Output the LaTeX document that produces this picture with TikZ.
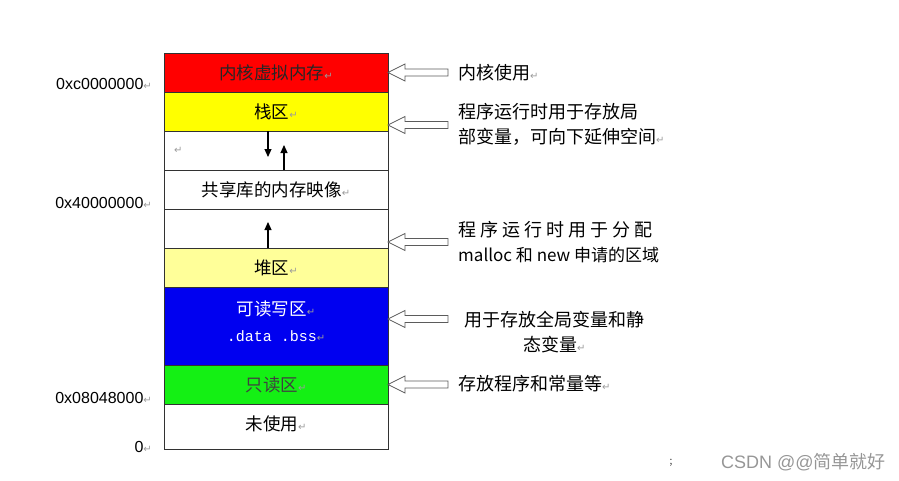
\documentclass[tikz,border=0pt]{standalone}
\usepackage{fontspec}
\setmainfont{Noto Sans CJK SC}
\newfontfamily\hexfont{Liberation Sans}
\newfontfamily\codefont{Liberation Mono}
\newfontfamily\markfont{DejaVu Sans}
\usetikzlibrary{arrows.meta,positioning}
\definecolor{ink}{RGB}{50,50,50}
\definecolor{kernred}{RGB}{255,0,0}
\definecolor{stackyel}{RGB}{255,255,0}
\definecolor{heapyel}{RGB}{255,255,153}
\definecolor{rwblue}{RGB}{0,0,240}
\definecolor{rogreen}{RGB}{20,240,20}
\definecolor{markgray}{RGB}{155,155,155}
\definecolor{wmgray}{RGB}{150,150,150}
\newcommand{\pmk}{{\markfont\fontsize{10}{10}\selectfont\textcolor{markgray}{↵}}}
\tikzset{
  seg/.style={draw=ink,line width=0.9pt,minimum width=224pt,minimum height=39pt,
    inner sep=0pt,outer sep=0pt,font=\fontsize{17.5}{20}\selectfont,align=center},
  addr/.style={anchor=east,inner sep=0pt,font=\hexfont\fontsize{16}{18}\selectfont},
  note/.style={anchor=west,inner sep=0pt,font=\fontsize{18}{25}\selectfont,align=left},
  growarr/.style={-{Triangle[length=8pt,width=7pt]},line width=1.1pt},
  hollow/.pic={\draw[draw=ink!80,line width=0.8pt,fill=white]
    (0,0) -- (17,-8.5) -- (17,-3.5) -- (60,-3.5) -- (60,3.5) -- (17,3.5) -- (17,8.5) -- cycle;},
}

\begin{document}
\begin{tikzpicture}[x=1pt,y=-1pt,node distance=0pt]
\useasboundingbox (0,0) rectangle (899,480);
% memory segments, top to bottom
\node[seg,fill=kernred,text=black!85,anchor=north west] (kern) at (164,53) {内核虚拟内存\pmk};
\node[seg,fill=stackyel,below=of kern] (stack) {栈区\pmk};
\node[seg,below=of stack] (gap1) {};
\node[seg,below=of gap1] (shlib) {共享库的内存映像\pmk};
\node[seg,below=of shlib] (gap2) {};
\node[seg,fill=heapyel,below=of gap2] (heap) {堆区\pmk};
\node[seg,fill=rwblue,minimum height=78pt,below=of heap,
  label={[name=rwtxt,yshift=5pt,text=white,align=center,font=\fontsize{17.5}{20}\selectfont]center:{可读写区\pmk\\[6pt]{\codefont\fontsize{15}{15}\selectfont .data .bss}\pmk}}] (rw) {};
\node[seg,fill=rogreen,text=black!75,below=of rw] (ro) {只读区\pmk};
\node[seg,minimum height=45pt,below=of ro,
  label={[name=unusedtxt,yshift=3pt,font=\fontsize{17.5}{20}\selectfont]center:未使用\pmk}] (unused) {};
\node[inner sep=0pt,anchor=west] (gapmk) at ([xshift=10pt]gap1.west) {\pmk};

% growth directions
\coordinate (dnTip) at (268,157);
\coordinate (upTip) at (284,145);
\coordinate (heapTip) at (268,222);
\draw[growarr] (dnTip |- stack.south) -- (dnTip);
\draw[growarr] (upTip |- shlib.north) -- (upTip);
\draw[growarr] (heapTip |- heap.north) -- (heapTip);

% addresses
\node[addr] (aKern) at (152,84) {0xc0000000\pmk};
\node[addr] (aShlib) at (152,203) {0x40000000\pmk};
\node[addr] (aText) at (152,398) {0x08048000\pmk};
\node[addr] (aZero) at (152,447) {0\pmk};

% pointers and notes
\path (kern.east) pic {hollow};
\path (stack.south east) ++(0,-6) pic {hollow};
\path (gap2.south east) ++(0,-6) pic {hollow};
\path (rw.east) ++(0,-7) pic {hollow};
\path (ro.east) pic {hollow};
\node[note] (nKern) at (458,73) {内核使用\pmk};
\node[note] (nStack) at (458,124.5) {程序运行时用于存放局\\部变量，可向下延伸空间\pmk};
\node[note] (nHeap) at (458,242) {程 序 运 行 时 用 于 分 配\\{\fontsize{17}{20}\selectfont malloc 和 new 申请的区域}};
\node[note,align=center] (nRw) at (464,332.5) {用于存放全局变量和静\\态变量\pmk};
\node[note] (nRo) at (458,384) {存放程序和常量等\pmk};

% watermark
\node[inner sep=0pt,font=\fontsize{10}{10}\selectfont,text=ink] (semi) at (671,463) {;};
\node[anchor=west,inner sep=0pt,text=wmgray,font=\fontsize{18}{18}\selectfont] (wm) at (721,462) {{\hexfont CSDN @@}简单就好};
\end{tikzpicture}
\end{document}
